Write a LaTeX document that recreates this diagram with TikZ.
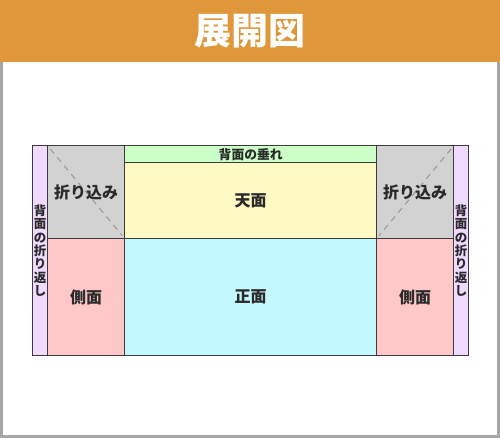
\documentclass[tikz,border=0pt]{standalone}
\usepackage{fontspec}
\setmainfont{Noto Sans CJK JP}
\usetikzlibrary{positioning}

\definecolor{headorange}{HTML}{E0973A}
\definecolor{framegray}{HTML}{A6A6A6}
\definecolor{edgegray}{HTML}{3C3C3C}
\definecolor{textgray}{HTML}{2A2A2A}
\definecolor{flapgray}{HTML}{D2D2D2}
\definecolor{hemgreen}{HTML}{CCFFC8}
\definecolor{topyellow}{HTML}{FFF9C4}
\definecolor{sidepink}{HTML}{FFC8C8}
\definecolor{frontcyan}{HTML}{C4F8FF}
\definecolor{backpurple}{HTML}{F0DAFF}

\tikzset{
  panel/.style={draw=edgegray, line width=1.4pt, anchor=north west, inner sep=0pt,
    text=textgray, font=\bfseries\fontsize{16}{18}\selectfont},
  foldline/.style={draw=gray!85, dashed, dash pattern=on 6pt off 5pt, line width=0.9pt},
}

\begin{document}
\begin{tikzpicture}[x=1pt,y=-1pt]

\useasboundingbox (0,0) rectangle (500,438);

% frame and header
\fill [framegray] (0,0) rectangle (500,438);
\fill [white] (3,62) rectangle (497,435);
\fill [headorange] (0,0) rectangle (500,62);
\node [text=white, font=\bfseries\fontsize{37}{40}\selectfont] (title) at (250,31) {展開図};

%%%%%%%%%%%%%%%%%%%%%%%%%%%%%%%%%%%%%%%%%%

\node [panel, fill=backpurple, minimum width=15pt, minimum height=210pt] (backL) at (32,145) {};
\node [panel, fill=backpurple, minimum width=15pt, minimum height=210pt] (backR) at (453,145) {};

\node [panel, fill=flapgray, minimum width=77pt, minimum height=93pt] (foldL) at (47,145) {};
\node [panel, fill=flapgray, minimum width=77pt, minimum height=93pt] (foldR) at (376,145) {};

\node [panel, fill=hemgreen, minimum width=252pt, minimum height=17pt,
       font=\bfseries\fontsize{12.8}{13}\selectfont] (hem) at (124,145) {背面の垂れ};
\node [panel, fill=topyellow, minimum width=252pt, minimum height=76pt] (top) at (124,162) {天面};

\node [panel, fill=sidepink, minimum width=77pt, minimum height=117pt] (sideL) at (47,238) {側面};
\node [panel, fill=frontcyan, minimum width=252pt, minimum height=117pt] (front) at (124,238) {正面};
\node [panel, fill=sidepink, minimum width=77pt, minimum height=117pt] (sideR) at (376,238) {側面};

%%%%%%%%%%%%%%%%%%%%%%%%%%%%%%%%%%%%%%%%%%

\draw [foldline, shorten <=5pt, shorten >=5pt] (foldL.north west) to (foldL.south east);
\draw [foldline, shorten <=5pt, shorten >=5pt] (foldR.north east) to (foldR.south west);

\node [text=textgray, font=\bfseries\fontsize{16}{18}\selectfont] (foldLtext) at (foldL.center) {折り込み};
\node [text=textgray, font=\bfseries\fontsize{16}{18}\selectfont] (foldRtext) at (foldR.center) {折り込み};

\node [text=textgray, align=center, inner sep=0pt, font=\bfseries\fontsize{12.5}{13.3}\selectfont]
  (backLtext) at (backL.center) {背\\面\\の\\折\\り\\返\\し};
\node [text=textgray, align=center, inner sep=0pt, font=\bfseries\fontsize{12.5}{13.3}\selectfont]
  (backRtext) at (backR.center) {背\\面\\の\\折\\り\\返\\し};

\end{tikzpicture}
\end{document}
